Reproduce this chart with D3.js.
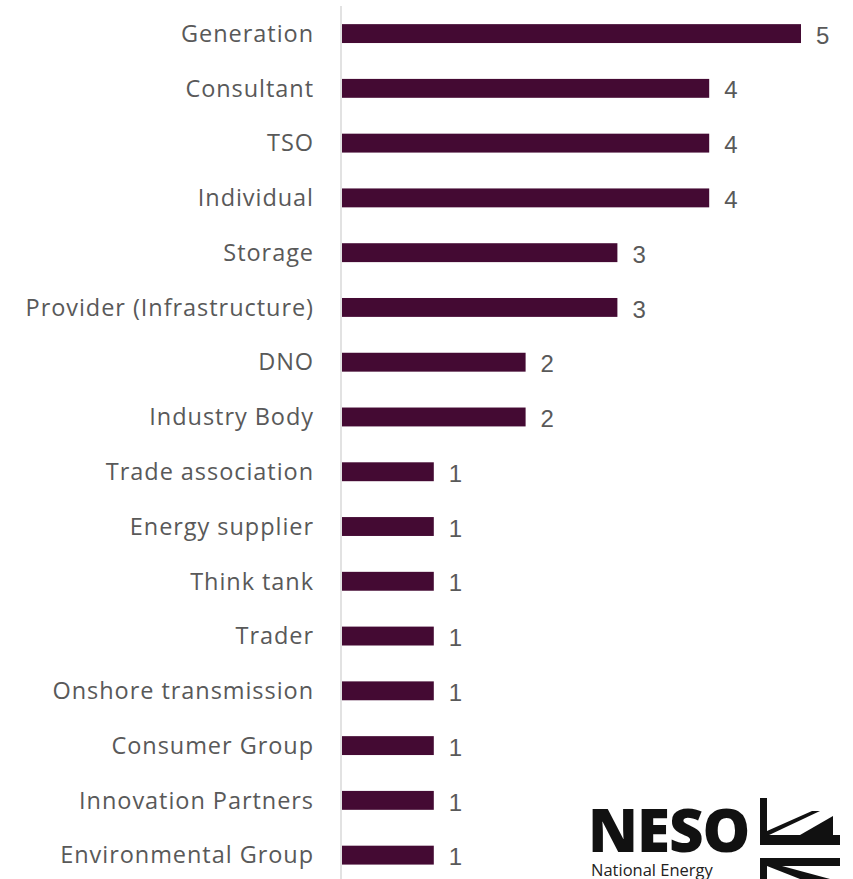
<html>
  <head>
    <meta charset="UTF-8" />
    <script src="https://cdnjs.cloudflare.com/ajax/libs/d3/7.8.5/d3.min.js"></script>
    <style>
      body { margin: 0; background: #fff; }
    </style>
  </head>
  <body>
    <div id="viz"><svg style="width:853px;height:879px;"></svg></div>
    <script>
      const categories = [
        "Generation", "Consultant", "TSO", "Individual", "Storage",
        "Provider (Infrastructure)", "DNO", "Industry Body", "Trade association",
        "Energy supplier", "Think tank", "Trader", "Onshore transmission",
        "Consumer Group", "Innovation Partners", "Environmental Group"
      ];
      const counts = [5, 4, 4, 4, 3, 3, 2, 2, 1, 1, 1, 1, 1, 1, 1, 1];

      const svg = d3.select("svg");
      const font = "'Open Sans', sans-serif";

      const x = d3.scaleLinear().domain([0, 5]).range([342, 801]);
      const y = d3.scaleBand()
        .domain(categories)
        .range([6.2, 6.2 + 16 * 54.77])
        .paddingInner(0.655)
        .paddingOuter(0.3275);

      // axis line
      svg.append("line")
        .attr("x1", 341).attr("x2", 341)
        .attr("y1", 6).attr("y2", 879)
        .style("stroke", "#d9d9d9")
        .style("stroke-width", 1.5);

      const data = categories.map((c, i) => ({ name: c, value: counts[i] }));

      svg.selectAll(".bar")
        .data(data)
        .enter()
        .append("rect")
        .attr("class", "bar")
        .attr("x", x(0))
        .attr("y", d => y(d.name))
        .attr("width", d => x(d.value) - x(0))
        .attr("height", y.bandwidth())
        .style("fill", "#440a33");

      svg.selectAll(".cat")
        .data(data)
        .enter()
        .append("text")
        .attr("class", "cat")
        .attr("x", 314)
        .attr("y", d => y(d.name) + y.bandwidth() / 2)
        .attr("dy", "0.35em")
        .attr("text-anchor", "end")
        .style("font-family", font)
        .style("font-size", "23.5px")
        .style("letter-spacing", "0.95px")
        .style("fill", "#595959")
        .text(d => d.name);

      svg.selectAll(".val")
        .data(data)
        .enter()
        .append("text")
        .attr("class", "val")
        .attr("x", d => x(d.value) + 15)
        .attr("y", d => y(d.name) + y.bandwidth() / 2 + 1.5)
        .attr("dy", "0.36em")
        .style("font-family", "'Liberation Sans', Arial, sans-serif")
        .style("font-size", "24px")
        .style("fill", "#595959")
        .text(d => d.value);

      // NESO logo
      const logo = svg.append("g");
      logo.append("text")
        .attr("x", 588).attr("y", 852)
        .style("font-family", "'Open Sans', sans-serif")
        .style("font-weight", 800)
        .style("font-size", "60px")
        .style("letter-spacing", "-1px")
        .style("fill", "#111")
        .text("NESO");
      logo.append("text")
        .attr("x", 591).attr("y", 876)
        .style("font-family", font)
        .style("font-size", "16.5px")
        .style("fill", "#222")
        .text("National Energy");
      // flag mark
      const ink = "#111";
      logo.append("rect").attr("x", 760).attr("y", 798).attr("width", 7).attr("height", 47).style("fill", ink);
      logo.append("rect").attr("x", 760).attr("y", 835).attr("width", 80).attr("height", 10).style("fill", ink);
      logo.append("polygon")
        .attr("points", "767,831 812,811 820,811 767,836")
        .style("fill", ink);
      logo.append("polygon")
        .attr("points", "800,835 833,816 833,835")
        .style("fill", ink);
      logo.append("rect").attr("x", 760).attr("y", 858).attr("width", 80).attr("height", 8).style("fill", ink);
      logo.append("rect").attr("x", 760).attr("y", 858).attr("width", 7).attr("height", 21).style("fill", ink);
      logo.append("polygon")
        .attr("points", "767,866 782,866 830,879 800,879")
        .style("fill", ink);
    </script>
  </body>
</html>
